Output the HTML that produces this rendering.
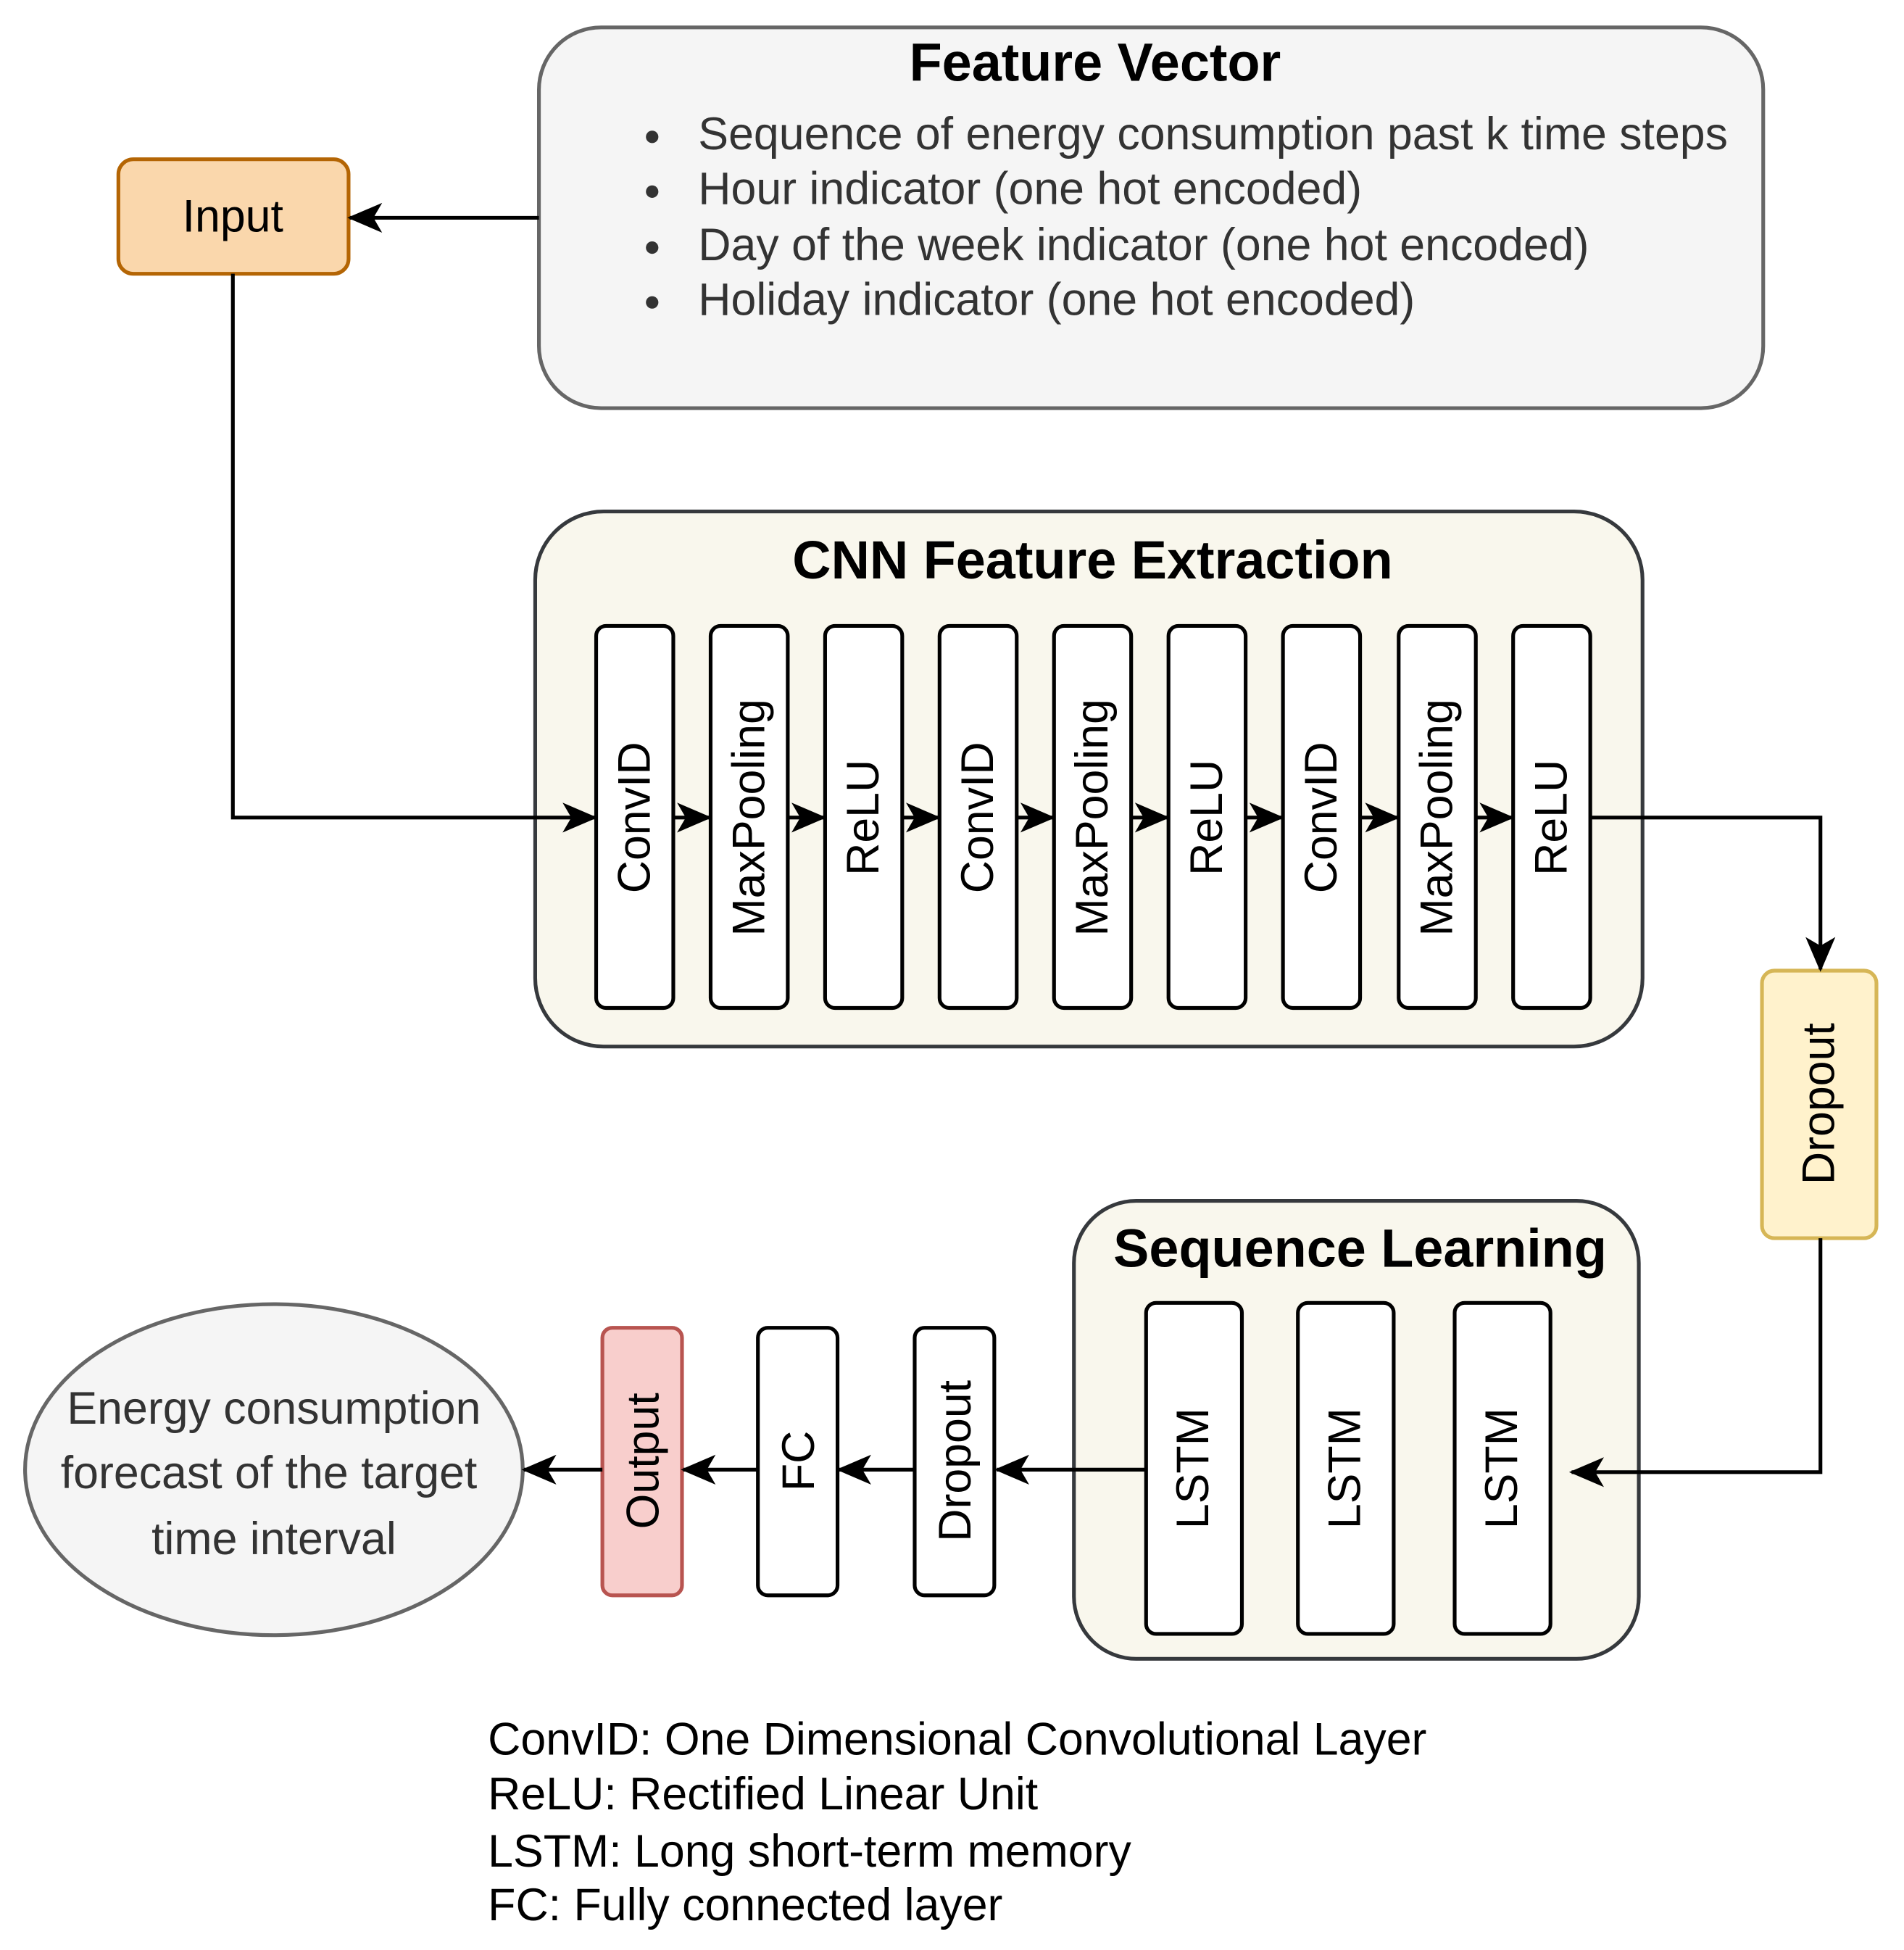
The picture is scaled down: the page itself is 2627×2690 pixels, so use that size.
<!DOCTYPE html>
<html><head><meta charset="utf-8"><style>html,body{margin:0;padding:0;background:#fff}svg{display:block}</style></head>
<body>
<svg width="2627" height="2690" viewBox="0 0 1530 1567" xmlns="http://www.w3.org/2000/svg" font-family="Liberation Sans, sans-serif">
<defs>
<marker id="b" markerWidth="28" markerHeight="28" refX="26" refY="14" orient="auto" markerUnits="userSpaceOnUse" viewBox="0 0 28 28"><path d="M0,2 L28,14 L0,26 L7,14 z" fill="#000"/></marker></defs>
<g stroke-width="3">
<rect x="433" y="22" width="984" height="306" rx="50" fill="#f5f5f5" stroke="#666"/>
<rect x="95" y="128" width="185" height="92" rx="12" fill="#fad7ac" stroke="#b46504"/>
<rect x="430" y="411" width="890" height="430" rx="55" fill="#f9f7ed" stroke="#36393d"/>
<rect x="1416" y="780" width="92" height="215" rx="10" fill="#fff2cc" stroke="#d6b656"/>
<rect x="863" y="965" width="454" height="368" rx="50" fill="#f9f7ed" stroke="#36393d"/>
<ellipse cx="220" cy="1181" rx="200" ry="133" fill="#f5f5f5" stroke="#666"/>
<rect x="735" y="1067" width="64" height="215" rx="8" fill="#fff" stroke="#000"/>
<rect x="609" y="1067" width="64" height="215" rx="8" fill="#fff" stroke="#000"/>
<rect x="484" y="1067" width="64" height="215" rx="8" fill="#f8cecc" stroke="#b85450"/>
<rect x="921" y="1047" width="77" height="266" rx="8" fill="#fff" stroke="#000"/>
<rect x="1043" y="1047" width="77" height="266" rx="8" fill="#fff" stroke="#000"/>
<rect x="1169" y="1047" width="77" height="266" rx="8" fill="#fff" stroke="#000"/>
<g fill="#fff" stroke="#000">
<rect x="479" y="503" width="62" height="307" rx="8"/><rect x="571" y="503" width="62" height="307" rx="8"/><rect x="663" y="503" width="62" height="307" rx="8"/>
<rect x="755" y="503" width="62" height="307" rx="8"/><rect x="847" y="503" width="62" height="307" rx="8"/><rect x="939" y="503" width="62" height="307" rx="8"/>
<rect x="1031" y="503" width="62" height="307" rx="8"/><rect x="1124" y="503" width="62" height="307" rx="8"/><rect x="1216" y="503" width="62" height="307" rx="8"/>
</g>
<g fill="none" stroke="#000" marker-end="url(#b)">
<path d="M433,175 H281"/>
<path d="M187,220 V657 H478"/>
<path d="M541,657 H570"/><path d="M633,657 H662"/><path d="M725,657 H754"/><path d="M817,657 H846"/><path d="M909,657 H938"/><path d="M1001,657 H1030"/><path d="M1093,657 H1123"/><path d="M1186,657 H1215"/>
<path d="M1278,657 H1463 V779"/>
<path d="M1463,995 V1183 H1263"/>
<path d="M921,1181 H801"/>
<path d="M735,1181 H674"/>
<path d="M609,1181 H549"/>
<path d="M484,1181 H421"/>
</g>
</g>
<g font-size="36.5" text-anchor="middle" fill="#000">
<text x="880" y="65" font-weight="bold" font-size="43">Feature Vector</text>
<text x="878" y="465" font-weight="bold" font-size="43">CNN Feature Extraction</text>
<text x="1093" y="1018" font-weight="bold" font-size="43">Sequence Learning</text>
<text x="187" y="186">Input</text>
<g fill="#333"><text x="220" y="1144">Energy consumption</text><text x="216" y="1196">forecast of the target</text><text x="220" y="1249">time interval</text></g>
</g>
<g font-size="36.5" fill="#333">
<circle cx="524" cy="110" r="5"/><circle cx="524" cy="154" r="5"/><circle cx="524" cy="199" r="5"/><circle cx="524" cy="243" r="5"/>
<text x="561" y="120">Sequence of energy consumption past k time steps</text>
<text x="561" y="164">Hour indicator (one hot encoded)</text>
<text x="561" y="209">Day of the week indicator (one hot encoded)</text>
<text x="561" y="253">Holiday indicator (one hot encoded)</text>
</g>
<g font-size="36.5" fill="#000">
<text x="392" y="1410">ConvID: One Dimensional Convolutional Layer</text>
<text x="392" y="1454">ReLU: Rectified Linear Unit</text>
<text x="392" y="1500">LSTM: Long short-term memory</text>
<text x="392" y="1543">FC: Fully connected layer</text>
</g>
<g font-size="36.5" text-anchor="middle" fill="#000">
<text transform="translate(522,657) rotate(-90)">ConvID</text>
<text transform="translate(614,657) rotate(-90)">MaxPooling</text>
<text transform="translate(706,657) rotate(-90)">ReLU</text>
<text transform="translate(798,657) rotate(-90)">ConvID</text>
<text transform="translate(890,657) rotate(-90)">MaxPooling</text>
<text transform="translate(982,657) rotate(-90)">ReLU</text>
<text transform="translate(1074,657) rotate(-90)">ConvID</text>
<text transform="translate(1167,657) rotate(-90)">MaxPooling</text>
<text transform="translate(1259,657) rotate(-90)">ReLU</text>
<text transform="translate(1474,887) rotate(-90)">Dropout</text>
<text transform="translate(971,1180) rotate(-90)">LSTM</text>
<text transform="translate(1093,1180) rotate(-90)">LSTM</text>
<text transform="translate(1219,1180) rotate(-90)">LSTM</text>
<text transform="translate(780,1174) rotate(-90)">Dropout</text>
<text transform="translate(654,1174) rotate(-90)">FC</text>
<text transform="translate(529,1174) rotate(-90)">Output</text>
</g>
</svg>
</body></html>
